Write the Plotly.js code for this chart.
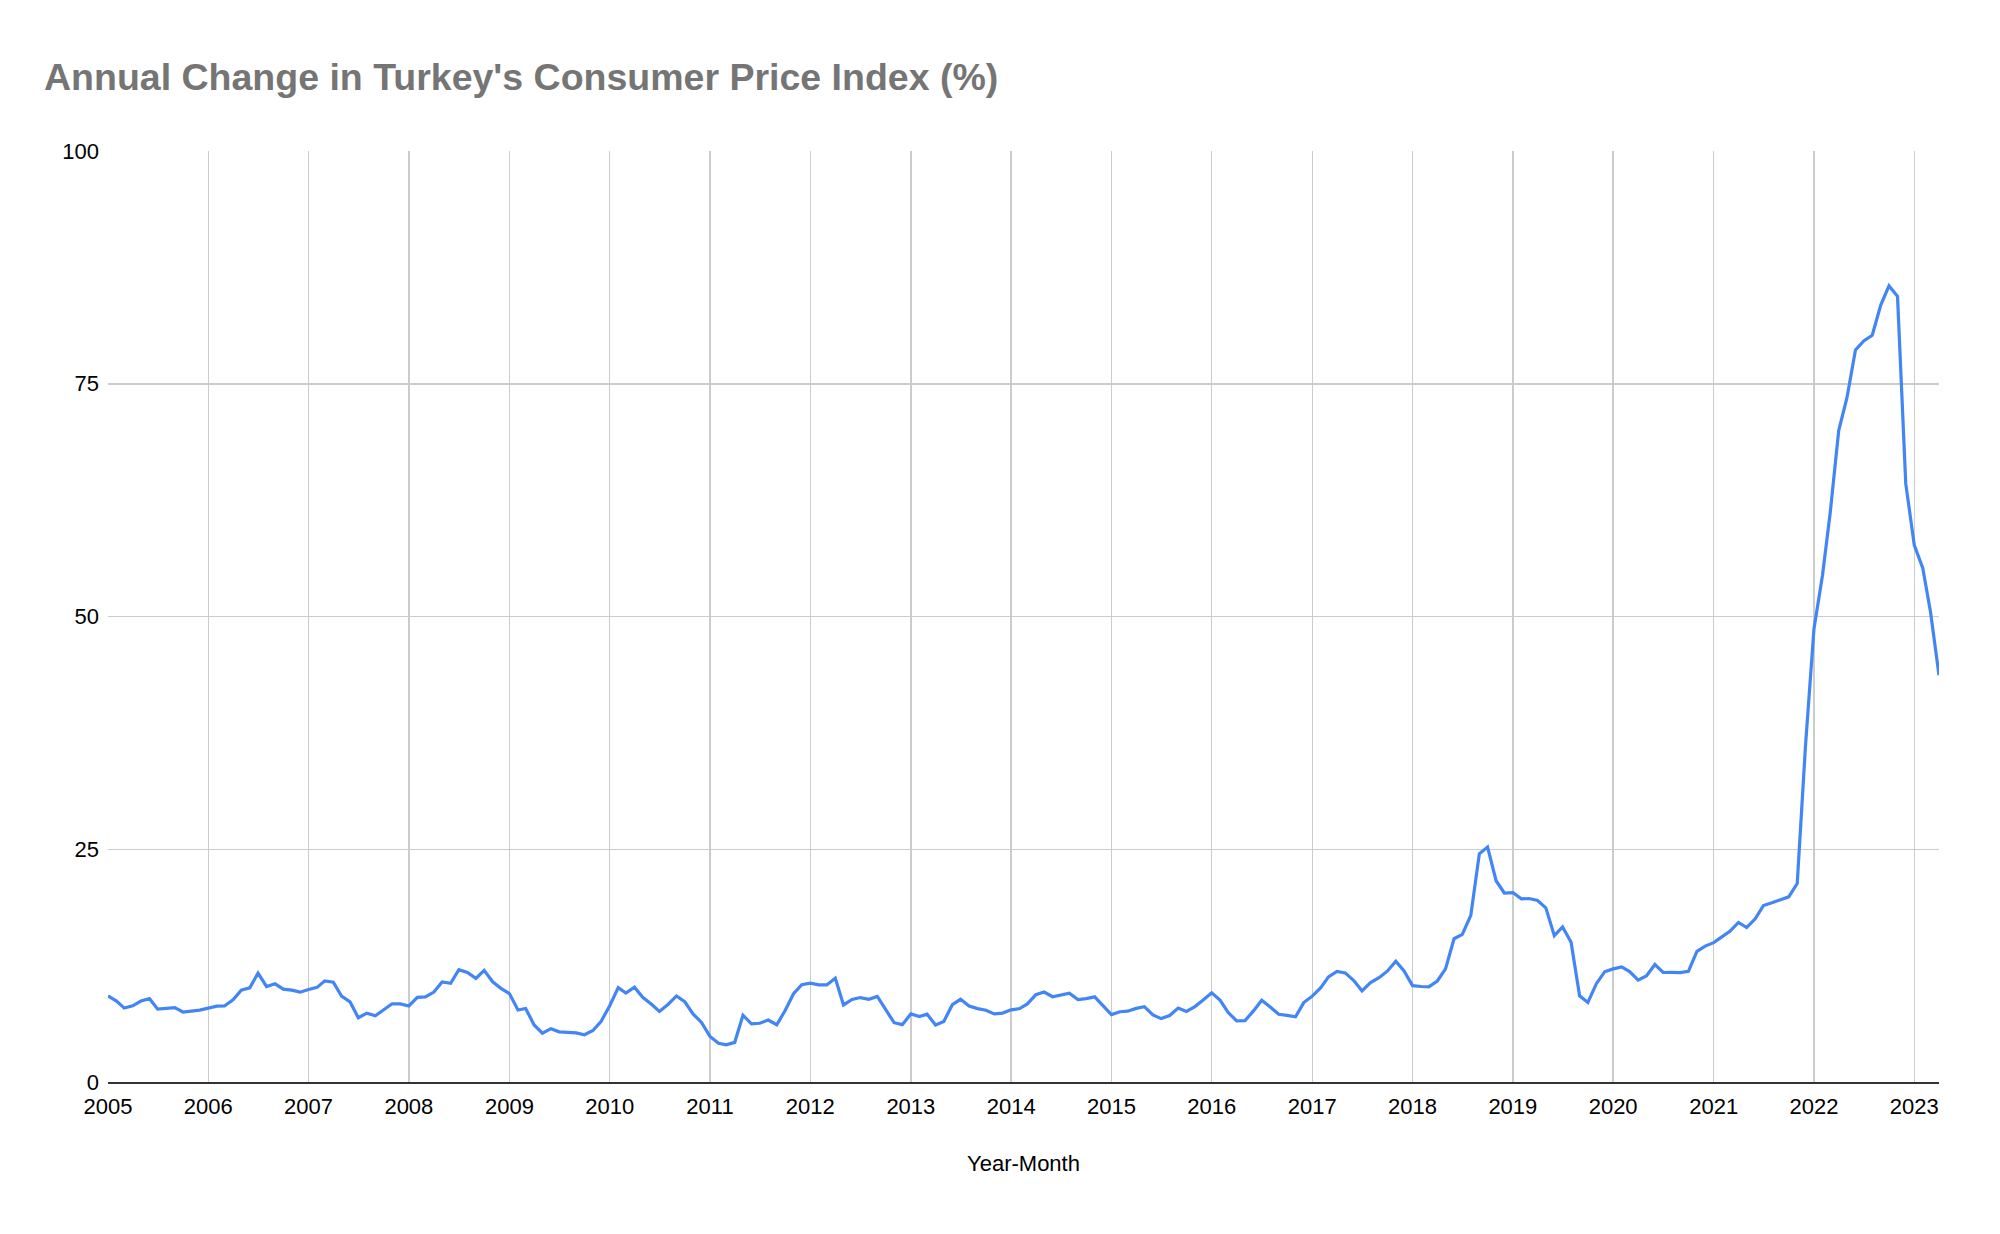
<!DOCTYPE html>
<html>
<head>
<meta charset="utf-8">
<script src="https://cdn.plot.ly/plotly-3.0.1.min.js"></script>
<style>
  html, body { margin: 0; padding: 0; background: #fff; }
  #chart { width: 2000px; height: 1234px; }
</style>
</head>
<body>
<div id="chart"></div>
<script>
// Annual CPI change (%), one array per year, Jan..Dec
var cpi2005 = [9.24, 8.69, 7.94, 8.18, 8.70, 8.95, 7.82, 7.91, 7.99, 7.52, 7.61, 7.72];
var cpi2006 = [7.93, 8.15, 8.16, 8.83, 9.86, 10.12, 11.69, 10.26, 10.55, 9.98, 9.86, 9.65];
var cpi2007 = [9.93, 10.16, 10.86, 10.72, 9.23, 8.60, 6.90, 7.39, 7.12, 7.70, 8.40, 8.39];
var cpi2008 = [8.17, 9.10, 9.15, 9.66, 10.74, 10.61, 12.06, 11.77, 11.13, 11.99, 10.76, 10.06];
var cpi2009 = [9.50, 7.73, 7.89, 6.13, 5.24, 5.73, 5.39, 5.33, 5.27, 5.08, 5.53, 6.53];
var cpi2010 = [8.19, 10.13, 9.56, 10.19, 9.10, 8.37, 7.58, 8.33, 9.24, 8.62, 7.29, 6.40];
var cpi2011 = [4.90, 4.16, 3.99, 4.26, 7.17, 6.24, 6.31, 6.65, 6.15, 7.66, 9.48, 10.45];
var cpi2012 = [10.61, 10.43, 10.43, 11.14, 8.28, 8.87, 9.07, 8.88, 9.19, 7.80, 6.37, 6.16];
var cpi2013 = [7.31, 7.03, 7.29, 6.13, 6.51, 8.30, 8.88, 8.17, 7.88, 7.71, 7.32, 7.40];
var cpi2014 = [7.75, 7.89, 8.39, 9.38, 9.66, 9.16, 9.32, 9.54, 8.86, 8.96, 9.15, 8.17];
var cpi2015 = [7.24, 7.55, 7.61, 7.91, 8.09, 7.20, 6.81, 7.14, 7.95, 7.58, 8.10, 8.81];
var cpi2016 = [9.58, 8.78, 7.46, 6.57, 6.58, 7.64, 8.79, 8.05, 7.28, 7.16, 7.00, 8.53];
var cpi2017 = [9.22, 10.13, 11.29, 11.87, 11.72, 10.90, 9.79, 10.68, 11.20, 11.90, 12.98, 11.92];
var cpi2018 = [10.35, 10.26, 10.23, 10.85, 12.15, 15.39, 15.85, 17.90, 24.52, 25.24, 21.62, 20.30];
var cpi2019 = [20.35, 19.67, 19.71, 19.50, 18.71, 15.72, 16.65, 15.01, 9.26, 8.55, 10.56, 11.84];
var cpi2020 = [12.15, 12.37, 11.86, 10.94, 11.39, 12.62, 11.76, 11.77, 11.75, 11.89, 14.03, 14.60];
var cpi2021 = [14.97, 15.61, 16.19, 17.14, 16.59, 17.53, 18.95, 19.25, 19.58, 19.89, 21.31, 36.08];
var cpi2022 = [48.69, 54.44, 61.14, 69.97, 73.50, 78.62, 79.60, 80.21, 83.45, 85.51, 84.39, 64.27];
var cpi2023 = [57.68, 55.18, 50.51, 43.68];

var years = [2005, 2006, 2007, 2008, 2009, 2010, 2011, 2012, 2013, 2014,
             2015, 2016, 2017, 2018, 2019, 2020, 2021, 2022, 2023];
var yearValues = [cpi2005, cpi2006, cpi2007, cpi2008, cpi2009, cpi2010, cpi2011,
                  cpi2012, cpi2013, cpi2014, cpi2015, cpi2016, cpi2017, cpi2018,
                  cpi2019, cpi2020, cpi2021, cpi2022, cpi2023];

// Flatten into month dates + values
var dates = [];
var values = [];
for (var i = 0; i < years.length; i++) {
    for (var m = 0; m < yearValues[i].length; m++) {
        var mm = m + 1 < 10 ? "0" + (m + 1) : "" + (m + 1);
        dates.push(years[i] + "-" + mm + "-01");
        values.push(yearValues[i][m]);
    }
}

var fontFamily = "Liberation Sans, Arial, Helvetica, sans-serif";

var trace = {
    x: dates,
    y: values,
    type: "scatter",
    mode: "lines",
    line: { color: "#4285F4", width: 3.2 },
    hoverinfo: "x+y"
};

var layout = {
    width: 2000,
    height: 1234,
    paper_bgcolor: "#ffffff",
    plot_bgcolor: "#ffffff",
    font: { family: fontFamily, color: "#000000", size: 22 },
    title: {
        text: "<b>Annual Change in Turkey's Consumer Price Index (%)</b>",
        font: { family: fontFamily, size: 37.5, color: "#757575" },
        x: 0.022,
        xanchor: "left",
        y: 0.938,
        yanchor: "middle"
    },
    margin: { l: 108, r: 61, t: 151, b: 152 },
    showlegend: false,
    xaxis: {
        type: "date",
        range: ["2005-01-01", "2023-04-01"],
        dtick: "M12",
        tick0: "2005-01-01",
        tickformat: "%Y",
        showgrid: true,
        gridcolor: "#cccccc",
        gridwidth: 1.5,
        zeroline: false,
        showline: true,
        linecolor: "#333333",
        linewidth: 2,
        ticks: "",
        ticklabelstandoff: 4,
        tickfont: { size: 22, color: "#000000" },
        title: {
            text: "Year-Month",
            font: { size: 22, color: "#000000" },
            standoff: 37
        }
    },
    yaxis: {
        range: [0, 100],
        dtick: 25,
        tick0: 0,
        showgrid: true,
        gridcolor: "#cccccc",
        gridwidth: 1.5,
        zeroline: false,
        showline: false,
        ticks: "",
        ticklabelstandoff: 8,
        tickfont: { size: 22, color: "#000000" }
    }
};

Plotly.newPlot("chart", [trace], layout, { displayModeBar: false, staticPlot: true });
</script>
</body>
</html>
